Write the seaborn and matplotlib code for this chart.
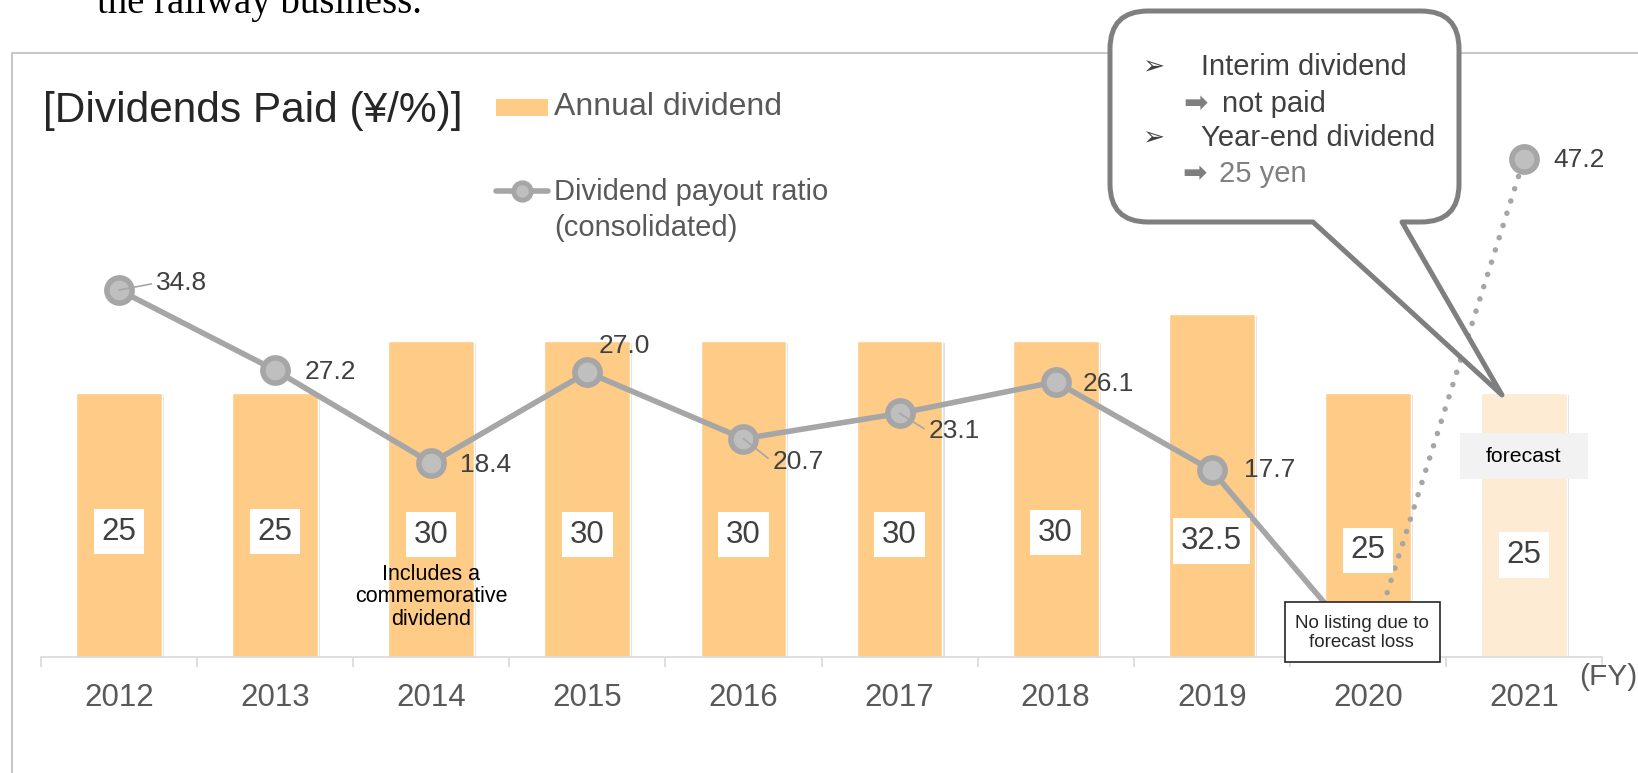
import matplotlib
matplotlib.use("Agg")
import matplotlib.pyplot as plt
import matplotlib.patheffects as pe
from matplotlib.patches import Rectangle, PathPatch
from matplotlib.path import Path
from matplotlib.lines import Line2D
import numpy as np
import pandas as pd
import seaborn as sns

# --- data -------------------------------------------------------------
years = ["2012", "2013", "2014", "2015", "2016", "2017", "2018", "2019", "2020", "2021"]
annual_dividend = [25, 25, 30, 30, 30, 30, 30, 32.5, 25, 25]
# FY2020 ratio is not listed (forecast loss); the line just dips to ~0 behind the note box
payout_ratio = [34.8, 27.2, 18.4, 27.0, 20.7, 23.1, 26.1, 17.7, 0.3, 47.2]
payout_listed = [True, True, True, True, True, True, True, True, False, True]

# --- styling ----------------------------------------------------------
bar_colors = ["#FFCC88"] * 9 + ["#FDEBD3"]
line_color = "#A6A6A6"
marker_face = "#BFBFBF"
label_offsets = [(37, 7), (29, -2), (29, -2), (11, 26), (29, -23),
                 (29, -18), (27, -2), (32, 0), None, (29, -1)]
leader = [True, False, False, False, True, True, False, False, False, False]
value_label_y = [11.9, 11.9, 11.6, 11.6, 11.6, 11.6, 11.8, 11.0, 10.1, 9.7]

W, H = 1638, 773


def P(x, y):
    # pixel position (origin top-left) -> figure fraction
    return (x / W, 1 - y / H)


sns.set_theme(style="white")
plt.rcParams["font.family"] = ["Liberation Sans", "DejaVu Sans"]

df = pd.DataFrame({"year": years, "dividend": annual_dividend,
                   "payout": payout_ratio, "pos": np.arange(len(years))})

fig = plt.figure(figsize=(W / 100, H / 100), dpi=100)
ax = fig.add_axes([41 / W, (H - 657) / H, (1602 - 41) / W, 580 / H])

# bars
sns.barplot(data=df, x="year", y="dividend", hue="year", palette=bar_colors,
            legend=False, width=0.55, saturation=1, ax=ax, zorder=1)
for p in ax.patches:
    p.set_path_effects([pe.SimplePatchShadow(offset=(1.5, -1.5), shadow_rgbFace="#808080", alpha=0.25),
                        pe.Normal()])

# payout ratio line: solid for actuals, dotted to the forecast
solid = df.iloc[:9]
fcst = df.iloc[8:]
sns.lineplot(data=solid, x="pos", y="payout", color=line_color, lw=4, ax=ax,
             zorder=2, estimator=None, sort=False)
sns.lineplot(data=fcst, x="pos", y="payout", color=line_color, lw=4, ax=ax,
             zorder=2, estimator=None, sort=False,
             linestyle=(0, (0.01, 2.3)), dash_capstyle="round")
shown = df[payout_listed]
sns.scatterplot(data=shown, x="pos", y="payout", s=330, color=marker_face,
                edgecolor=line_color, linewidth=4, ax=ax, zorder=3, legend=False)

for i, v in enumerate(payout_ratio):
    if not payout_listed[i]:
        continue
    arrow = dict(arrowstyle="-", color=line_color, lw=1.2, relpos=(0, 0.5),
                 shrinkA=1, shrinkB=0) if leader[i] else None
    ax.annotate(f"{v:.1f}", (i, v), xytext=label_offsets[i], textcoords="offset pixels",
                ha="left", va="center", fontsize=19, color="#404040", zorder=4,
                arrowprops=arrow)

# dividend values in white boxes
for i, v in enumerate(annual_dividend):
    ax.text(i, value_label_y[i], f"{v:g}", ha="center", va="center", fontsize=22.5,
            color="#404040", zorder=5,
            bbox=dict(boxstyle="square,pad=0.25", fc="white", ec="none"))

ax.text(2, 5.7, "Includes a\ncommemorative\ndividend", ha="center", va="center",
        fontsize=15.5, color="black", linespacing=1.07, zorder=5)

# forecast tag on the 2021 bar
ax.add_patch(Rectangle((8.59, 16.87), 0.82, 4.36, fc="#F2F2F2", ec="none", zorder=6))
ax.text(9, 19.05, "forecast", ha="center", va="center", fontsize=15.3, color="black", zorder=7)

# note box hiding FY2020 ratio
ax.add_patch(Rectangle((7.47, -0.47), 0.99, 5.7, fc="white", ec="#262626", lw=1.2,
                       zorder=6, clip_on=False))
ax.text(7.96, 2.3, "No listing due to\nforecast loss", ha="center", va="center",
        fontsize=13.5, color="#262626", linespacing=1.15, zorder=7)

# axes cosmetics
ax.set_xlim(-0.5, 9.5)
ax.set_ylim(0, 55)
ax.set_yticks([])
ax.set_xlabel("")
ax.set_ylabel("")
for s in ["left", "right", "top"]:
    ax.spines[s].set_visible(False)
ax.spines["bottom"].set_color("#D9D9D9")
ax.spines["bottom"].set_linewidth(1.2)
ax.set_xticks(range(len(years)))
ax.set_xticklabels(years)
ax.set_xticks(np.arange(-0.5, len(years), 1), minor=True)
ax.tick_params(axis="x", which="major", length=0, pad=19, labelsize=22.5, labelcolor="#595959")
ax.tick_params(axis="x", which="minor", length=7, width=1.2, color="#D9D9D9", bottom=True)
ax.patch.set_alpha(0)

# outer frame of the slide panel
fig.add_artist(Line2D([12 / W, 12 / W], [0, 1 - 53 / H], color="#C8C8C8", lw=1.5))
fig.add_artist(Line2D([12 / W, 1], [1 - 53 / H, 1 - 53 / H], color="#C8C8C8", lw=1.5))

# text cut at the top of the slide
fig.text(*P(97, 13), "the railway business.", family="Liberation Serif", fontsize=28,
         color="black", va="baseline", ha="left")

# title and legend
fig.text(*P(43, 111), "[Dividends Paid (¥/%)]", fontsize=30.5, color="#262626", va="center")
fig.add_artist(Rectangle(P(496, 116), 52 / W, 17 / H, transform=fig.transFigure,
                         fc=bar_colors[0], ec="none"))
fig.text(*P(554, 107), "Annual dividend", fontsize=23, color="#595959", va="center")
fig.add_artist(Line2D([496 / W, 548 / W], [1 - 191 / H] * 2, color=line_color, lw=4))
fig.add_artist(Line2D([522 / W], [1 - 191 / H], marker="o", ms=12.5, mew=3.5,
                      mfc=marker_face, mec=line_color, lw=0))
fig.text(*P(554, 210), "Dividend payout ratio\n(consolidated)", fontsize=21, color="#595959",
         va="center", linespacing=1.4)

fig.text(*P(1579, 677), "(FY)", fontsize=21.5, color="#595959", va="center")

# speech-bubble callout pointing at the FY2021 bar
L, R, T, B, r = 1110, 1459, 11, 222, 38
bl, br, tip = 1313, 1402, (1502, 395)
verts = [P(L + r, T), P(R - r, T), P(R, T), P(R, T + r), P(R, B - r), P(R, B), P(R - r, B),
         P(br, B), P(*tip), P(bl, B), P(L + r, B), P(L, B), P(L, B - r), P(L, T + r),
         P(L, T), P(L + r, T), P(L + r, T)]
codes = [Path.MOVETO, Path.LINETO, Path.CURVE3, Path.CURVE3, Path.LINETO, Path.CURVE3,
         Path.CURVE3, Path.LINETO, Path.LINETO, Path.LINETO, Path.LINETO, Path.CURVE3,
         Path.CURVE3, Path.LINETO, Path.CURVE3, Path.CURVE3, Path.CLOSEPOLY]
fig.add_artist(PathPatch(Path(verts, codes), transform=fig.transFigure, fc="white",
                         ec="#7F7F7F", lw=3.6, joinstyle="round", zorder=10))

txt = dict(fontsize=21, color="#404040", va="center", zorder=11)
fig.text(*P(1142, 67), "➢", family="DejaVu Sans", **{**txt, "fontsize": 19})
fig.text(*P(1201, 67), "Interim dividend", **txt)
fig.text(*P(1183, 104), "➡", family="DejaVu Sans", **{**txt, "color": "#7F7F7F"})
fig.text(*P(1222, 104), "not paid", **txt)
fig.text(*P(1142, 138), "➢", family="DejaVu Sans", **{**txt, "fontsize": 19})
fig.text(*P(1201, 138), "Year-end dividend", **txt)
fig.text(*P(1182, 174), "➡", family="DejaVu Sans", **{**txt, "color": "#7F7F7F"})
fig.text(*P(1219, 174), "25 yen", **{**txt, "color": "#7F7F7F"})

fig.savefig("out.png", dpi=100)
